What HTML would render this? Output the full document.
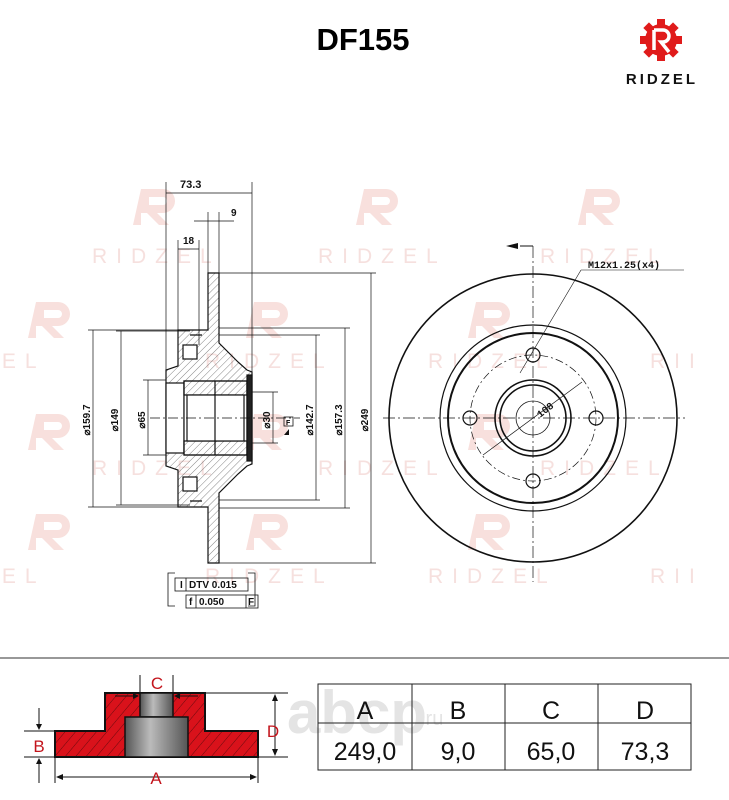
<!DOCTYPE html>
<html><head><meta charset="utf-8"><style>
html,body{margin:0;padding:0;background:#fff;}
svg{display:block;}
text{font-family:"Liberation Sans",sans-serif;}
.m{font-family:"Liberation Mono",monospace;font-weight:bold;font-size:10px;fill:#111;}
</style></head><body>
<svg width="729" height="800" viewBox="0 0 729 800" xmlns="http://www.w3.org/2000/svg">
<defs>
<pattern id="h" patternUnits="userSpaceOnUse" width="5" height="5" patternTransform="rotate(45)">
<line x1="0" y1="0" x2="0" y2="5" stroke="#333" stroke-width="0.6"/></pattern>
<pattern id="rh" patternUnits="userSpaceOnUse" width="8" height="8" patternTransform="rotate(40)">
<rect width="8" height="8" fill="#d9121b"/><line x1="0" y1="0" x2="0" y2="8" stroke="#6a0a0e" stroke-width="1"/></pattern>
<linearGradient id="cyl" x1="0" x2="1"><stop offset="0" stop-color="#555"/><stop offset="0.4" stop-color="#bbb"/><stop offset="1" stop-color="#555"/></linearGradient>
<g id="wm" fill="#f8e0dd">
<path d="M-14,-16 h22 a12,12 0 0 1 0,24 h-6 l12,12 h-10 l-12,-12 h-6 v12 h-8 z M-6,-8 v8 h14 a4,4 0 0 0 0,-8 z" fill-rule="evenodd"/>
</g>
</defs>

<g>
<use href="#wm" x="155" y="205"/><use href="#wm" x="378" y="205"/><use href="#wm" x="600" y="205"/>
<use href="#wm" x="268" y="318"/><use href="#wm" x="490" y="318"/><use href="#wm" x="50" y="318"/>
<use href="#wm" x="268" y="430"/><use href="#wm" x="490" y="430"/><use href="#wm" x="50" y="430"/>
<use href="#wm" x="268" y="530"/><use href="#wm" x="490" y="530"/><use href="#wm" x="50" y="530"/>
</g>
<g fill="#f6e0de" font-size="21" letter-spacing="9">
<text x="92" y="263">RIDZEL</text><text x="318" y="263">RIDZEL</text><text x="540" y="263">RIDZEL</text>
<text x="-20" y="368">ZEL</text><text x="205" y="368">RIDZEL</text><text x="428" y="368">RIDZEL</text><text x="650" y="368">RII</text>
<text x="92" y="475">RIDZEL</text><text x="318" y="475">RIDZEL</text><text x="540" y="475">RIDZEL</text>
<text x="-20" y="583">ZEL</text><text x="205" y="583">RIDZEL</text><text x="428" y="583">RIDZEL</text><text x="650" y="583">RII</text>
</g>

<text x="363" y="50" font-size="31" font-weight="bold" text-anchor="middle" fill="#000">DF155</text>
<g transform="translate(661,40)">
<circle r="16" fill="#e01b1b"/>
<g fill="#e01b1b"><rect x="-4" y="-21" width="8" height="42"/><rect x="-21" y="-4" width="42" height="8"/>
<rect x="-4" y="-21" width="8" height="42" transform="rotate(45)"/><rect x="-4" y="-21" width="8" height="42" transform="rotate(-45)"/></g>
<path d="M-7,-10 h9 a6,6 0 0 1 0,12 h-2 l8,10" fill="none" stroke="#fff" stroke-width="3.5"/>
<path d="M-7,-10 v20" stroke="#fff" stroke-width="3.5"/>
</g>
<text x="662" y="84" font-size="15" font-weight="bold" text-anchor="middle" letter-spacing="3" fill="#111">RIDZEL</text>

<g stroke="#111" fill="none" stroke-width="1.2">
<path d="M208,273 L219,273 L219,343 L238,362 L247,370 L252,372 L252,464 L247,466 L238,474 L219,493 L219,563 L208,563 L208,507 L178,507 L178,470 L166,466 L166,370 L178,366 L178,330 L208,330 Z" fill="url(#h)"/>
<rect x="166" y="383" width="18" height="70" fill="#fff"/>
<rect x="184" y="381" width="63" height="74" fill="#fff"/>
<rect x="184" y="381" width="63" height="14" fill="url(#h)"/>
<rect x="184" y="441" width="63" height="14" fill="url(#h)"/>
<rect x="187" y="395" width="57" height="46" fill="#fff"/>
<line x1="215" y1="381" x2="215" y2="455"/>
<rect x="247" y="375" width="5" height="86" fill="#222"/>
<rect x="183" y="345" width="14" height="14" fill="#fff"/>
<rect x="183" y="477" width="14" height="14" fill="#fff"/>
<path d="M190,335 h12 M190,501 h12" />
</g>
<line x1="150" y1="418" x2="300" y2="418" stroke="#111" stroke-width="0.7" stroke-dasharray="10,3,2,3"/>

<g stroke="#111" stroke-width="0.7" fill="none">
<line x1="166" y1="182" x2="166" y2="370"/><line x1="252" y1="182" x2="252" y2="372"/>
<line x1="166" y1="193" x2="252" y2="193"/>
<line x1="208" y1="212" x2="208" y2="273"/><line x1="219" y1="212" x2="219" y2="273"/>
<line x1="194" y1="221" x2="234" y2="221"/>
<line x1="178" y1="240" x2="178" y2="330"/><line x1="199" y1="240" x2="199" y2="345"/>
<line x1="178" y1="249" x2="199" y2="249"/>
<line x1="88" y1="330" x2="178" y2="330"/><line x1="88" y1="507" x2="178" y2="507"/>
<line x1="93" y1="330" x2="93" y2="507"/>
<line x1="116" y1="331" x2="190" y2="331"/><line x1="116" y1="505" x2="190" y2="505"/>
<line x1="121" y1="331" x2="121" y2="505"/>
<line x1="143" y1="380" x2="166" y2="380"/><line x1="143" y1="455" x2="166" y2="455"/>
<line x1="148" y1="380" x2="148" y2="455"/>
<line x1="252" y1="392" x2="278" y2="392"/><line x1="252" y1="443" x2="278" y2="443"/>
<line x1="273" y1="392" x2="273" y2="443"/>
<line x1="219" y1="335" x2="320" y2="335"/><line x1="219" y1="500" x2="320" y2="500"/>
<line x1="316" y1="335" x2="316" y2="500"/>
<line x1="219" y1="328" x2="350" y2="328"/><line x1="219" y1="508" x2="350" y2="508"/>
<line x1="345" y1="328" x2="345" y2="508"/>
<line x1="219" y1="273" x2="376" y2="273"/><line x1="219" y1="563" x2="376" y2="563"/>
<line x1="371" y1="273" x2="371" y2="563"/>
</g>
<g class="m">
<text x="180" y="188" font-size="11">73.3</text>
<text x="231" y="216">9</text>
<text x="183" y="244">18</text>
</g>
<g class="m">
<text transform="translate(90,420) rotate(-90)" text-anchor="middle">⌀159.7</text>
<text transform="translate(118,420) rotate(-90)" text-anchor="middle">⌀149</text>
<text transform="translate(145,420) rotate(-90)" text-anchor="middle">⌀65</text>
<text transform="translate(270,420) rotate(-90)" text-anchor="middle">⌀30</text>
<text transform="translate(313,420) rotate(-90)" text-anchor="middle">⌀142.7</text>
<text transform="translate(342,420) rotate(-90)" text-anchor="middle">⌀157.3</text>
<text transform="translate(368,420) rotate(-90)" text-anchor="middle">⌀249</text>
</g>
<rect x="284" y="417" width="9" height="9" fill="none" stroke="#111" stroke-width="0.8"/>
<text x="286" y="425" font-size="7" font-weight="bold">F</text>
<path d="M284,435 l5,-6 l0,6z" fill="#111"/>
<g stroke="#111" stroke-width="0.8" fill="none">
<polyline points="175,573 168,573 168,606 175,606"/>
<polyline points="248,573 255,573 255,606 248,606"/>
<rect x="175" y="578" width="73" height="13"/><line x1="186" y1="578" x2="186" y2="591"/>
<rect x="186" y="595" width="72" height="13"/><line x1="196" y1="595" x2="196" y2="608"/><line x1="246" y1="595" x2="246" y2="608"/>
</g>
<g class="m" font-size="9"><text x="180" y="588">I</text><text x="189" y="588">DTV 0.015</text>
<text x="189" y="605">f</text><text x="199" y="605">0.050</text><text x="248" y="605">F</text></g>

<g stroke="#111" fill="none">
<circle cx="533" cy="418" r="144" stroke-width="1.6"/>
<circle cx="533" cy="418" r="93" stroke-width="1.2"/>
<circle cx="533" cy="418" r="85" stroke-width="2"/>
<circle cx="533" cy="418" r="63" stroke-width="0.7" stroke-dasharray="8,3,2,3"/>
<circle cx="533" cy="418" r="38" stroke-width="1.6"/>
<circle cx="533" cy="418" r="33" stroke-width="1.6"/>
<circle cx="533" cy="418" r="17" stroke-width="0.8"/>
<circle cx="533" cy="355" r="7" stroke-width="1.2"/>
<circle cx="533" cy="481" r="7" stroke-width="1.2"/>
<circle cx="470" cy="418" r="7" stroke-width="1.2"/>
<circle cx="596" cy="418" r="7" stroke-width="1.2"/>
<line x1="383" y1="418" x2="685" y2="418" stroke-width="0.7" stroke-dasharray="12,3,2,3"/>
<line x1="533" y1="246" x2="533" y2="582" stroke-width="0.7" stroke-dasharray="12,3,2,3"/>
<line x1="483" y1="455" x2="582" y2="382" stroke-width="0.7"/>
<polyline points="520,246 533,246" stroke-width="1"/>
<polyline points="581,270 520,373" stroke-width="0.6"/>
<line x1="581" y1="270" x2="684" y2="270" stroke-width="0.6"/>
</g>
<path d="M506,246 l12,-3 v6z" fill="#111"/>
<text class="m" x="588" y="268" font-size="9.5">M12x1.25(x4)</text>
<text class="m" transform="translate(540,418) rotate(-38)" font-size="10">108</text>

<line x1="0" y1="658" x2="729" y2="658" stroke="#777" stroke-width="1.5"/>

<path d="M55,731 H105 V693 H205 V731 H258 V757 H55 Z" fill="url(#rh)" stroke="#111" stroke-width="2"/>
<rect x="140" y="693" width="33" height="24" fill="url(#cyl)" stroke="#111" stroke-width="1.5"/>
<rect x="125" y="717" width="63" height="40" fill="url(#cyl)" stroke="#111" stroke-width="1.5"/>
<g stroke="#111" stroke-width="1" fill="none">
<line x1="140" y1="675" x2="140" y2="693"/><line x1="173" y1="675" x2="173" y2="693"/>
<line x1="115" y1="696" x2="137" y2="696"/><line x1="176" y1="696" x2="198" y2="696"/>
<line x1="205" y1="693" x2="288" y2="693"/><line x1="258" y1="757" x2="288" y2="757"/>
<line x1="275" y1="697" x2="275" y2="753"/>
<line x1="24" y1="731" x2="55" y2="731"/><line x1="24" y1="757" x2="55" y2="757"/>
<line x1="39" y1="708" x2="39" y2="727"/><line x1="39" y1="761" x2="39" y2="783"/>
<line x1="55" y1="757" x2="55" y2="783"/><line x1="258" y1="757" x2="258" y2="783"/>
<line x1="59" y1="777" x2="254" y2="777"/>
</g>
<g fill="#111">
<path d="M139,696 l-6,-3 v6z"/><path d="M174,696 l6,-3 v6z"/>
<path d="M275,694 l-3,7 h6z"/><path d="M275,756 l-3,-7 h6z"/>
<path d="M39,730 l-3,-6 h6z"/><path d="M39,758 l-3,6 h6z"/>
<path d="M56,777 l7,-3 v6z"/><path d="M257,777 l-7,-3 v6z"/>
</g>
<g fill="#c3141c" font-size="17">
<text x="157" y="689" text-anchor="middle">C</text>
<text x="273" y="737" text-anchor="middle">D</text>
<text x="39" y="752" text-anchor="middle">B</text>
<text x="156" y="784" text-anchor="middle">A</text>
</g>

<text x="287" y="733" font-size="60" fill="#e4e4e4" font-weight="bold">abcp</text>
<text x="420" y="725" font-size="20" fill="#e4e4e4">.ru</text>
<g stroke="#222" stroke-width="1" fill="none">
<rect x="318" y="684" width="373" height="86"/>
<line x1="318" y1="723" x2="691" y2="723"/>
<line x1="412" y1="684" x2="412" y2="770"/>
<line x1="505" y1="684" x2="505" y2="770"/>
<line x1="598" y1="684" x2="598" y2="770"/>
</g>
<g font-size="25" fill="#111" text-anchor="middle">
<text x="365" y="719">A</text><text x="458" y="719">B</text><text x="551" y="719">C</text><text x="645" y="719">D</text>
<text x="365" y="760">249,0</text><text x="458" y="760">9,0</text><text x="551" y="760">65,0</text><text x="645" y="760">73,3</text>
</g>
</svg>
</body></html>
